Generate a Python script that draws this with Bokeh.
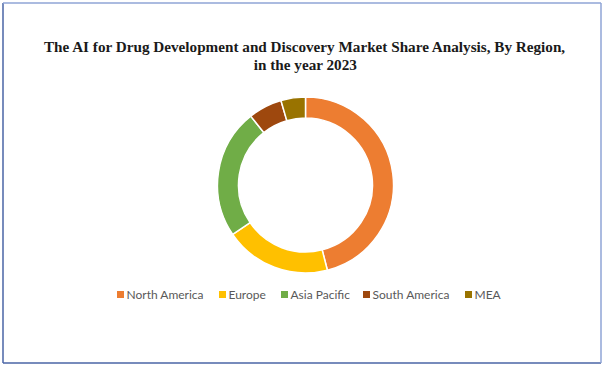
import math
from bokeh.plotting import figure
from bokeh.models import Range1d, ColumnDataSource
from bokeh.core.properties import value
from bokeh.embed import file_html
from bokeh.resources import INLINE

# ---- data ----
regions = ["North America", "Europe", "Asia Pacific", "South America", "MEA"]
shares = [46.0, 19.5, 23.8, 6.2, 4.5]
colors = ["#ED7D31", "#FFC000", "#70AD47", "#9E480E", "#997300"]
title_lines = ["The AI for Drug Development and Discovery Market Share Analysis, By Region,",
               "in the year 2023"]

# ---- layout (data units = pixels; y measured from bottom) ----
W, H = 606, 366
p = figure(width=W, height=H, output_backend="svg", toolbar_location=None,
           x_range=Range1d(0, W), y_range=Range1d(0, H),
           min_border=0, outline_line_color=None)
p.axis.visible = False
p.grid.visible = False
p.background_fill_color = "white"
p.border_fill_color = "white"

def Y(page_y):
    return H - page_y

# frame border (left/bottom darker, top/right lighter)
p.segment(x0=[2.5, 2.5], y0=[Y(2.5), Y(362.5)], x1=[2.5, 600.5], y1=[Y(362.5), Y(362.5)],
          line_color="#4A64A6", line_width=1.5)
p.segment(x0=[2.5, 600.5], y0=[Y(2.5), Y(2.5)], x1=[600.5, 600.5], y1=[Y(2.5), Y(362.5)],
          line_color="#8FA5D6", line_width=1.5)

# donut
total = sum(shares)
starts, ends = [], []
acc = 0.0
for s in shares:
    starts.append(math.pi / 2 - 2 * math.pi * acc / total)
    acc += s
    ends.append(math.pi / 2 - 2 * math.pi * acc / total)
src = ColumnDataSource(dict(start=starts, end=ends, color=colors, region=regions))
p.annular_wedge(x=305, y=Y(184.5), inner_radius=67, outer_radius=88,
                start_angle="start", end_angle="end", direction="clock",
                fill_color="color", line_color="white", line_width=1.5, source=src)

# title
p.text(x=[305, 305], y=[Y(46), Y(64)], text=title_lines,
       text_font=value("Liberation Serif"), text_font_style="bold",
       text_font_size="15.2px", text_align="center", text_baseline="middle",
       text_color="#1a1a1a")

# legend
leg_x = [120, 222, 284, 366, 468]
leg_y = Y(294)
p.scatter(x=leg_x, y=[leg_y] * 5, marker="square", size=7, fill_color=colors,
          line_color=None)
p.text(x=[x + 6 for x in leg_x], y=[leg_y] * 5, text=regions,
       text_font=value("Lato"), text_font_size="12px", text_align="left",
       text_baseline="middle", text_color="#595959")

open("out.html", "w").write(file_html(p, INLINE))
